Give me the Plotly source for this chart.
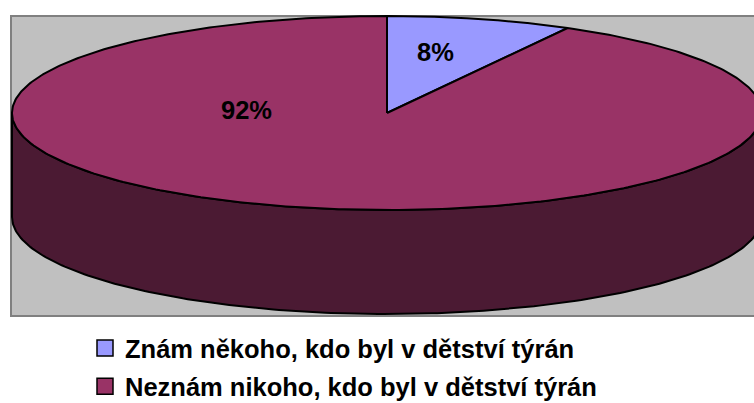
import numpy as np
import plotly.graph_objects as go

# ---- data ----
categories = ["Znám někoho, kdo byl v dětství týrán",
              "Neznám nikoho, kdo byl v dětství týrán"]
values = [8, 92]
top_colors = ["#9999FF", "#993366"]
side_colors = ["#4D4D80", "#4B1A33"]

# ---- geometry (pixel-like layout units) ----
W, H = 754, 403
cx, cy = 387, 113          # centre of top ellipse
a, b = 375, 97             # semi-axes
depth = 104                # thickness of the pie

def pt(theta_deg, dy=0.0):
    t = np.radians(theta_deg)
    return cx + a * np.sin(t), cy - b * np.cos(t) + dy

fig = go.Figure()

total = sum(values)
starts = np.cumsum([0] + values[:-1]) / total * 360.0
ends = np.cumsum(values) / total * 360.0

# sides (front half only: 90..270 degrees)
for s, e, col in zip(starts, ends, side_colors):
    s0, s1 = max(s, 90.0), min(e, 270.0)
    if s1 <= s0:
        continue
    th = np.linspace(s0, s1, 200)
    xt, yt = pt(th)
    xb, yb = pt(th[::-1], depth)
    xs = np.concatenate([xt, xb, xt[:1]])
    ys = np.concatenate([yt, yb, yt[:1]])
    fig.add_trace(go.Scatter(x=xs, y=ys, mode="lines", fill="toself",
                             fillcolor=col, line=dict(color="black", width=2),
                             hoverinfo="skip", showlegend=False))

# top faces
for s, e, col, name in zip(starts, ends, top_colors, categories):
    th = np.linspace(s, e, 400)
    xa, ya = pt(th)
    xs = np.concatenate([[cx], xa, [cx]])
    ys = np.concatenate([[cy], ya, [cy]])
    fig.add_trace(go.Scatter(x=xs, y=ys, mode="lines", fill="toself",
                             fillcolor=col, line=dict(color="black", width=2),
                             hoverinfo="skip", showlegend=False))

# legend entries
for i, (name, col) in enumerate(zip(categories, top_colors)):
    fig.add_trace(go.Scatter(x=[None], y=[None], mode="markers", name=name,
                             legendgroup=str(i),
                             marker=dict(symbol="square", size=18, color=col,
                                         line=dict(color="black", width=1.5))))

# percentage labels
label_pos = [(435, 52), (246, 110)]
for v, (lx, ly) in zip(values, label_pos):
    fig.add_annotation(x=lx, y=ly, text=f"{round(v / total * 100)}%",
                       showarrow=False, xref="x", yref="y",
                       font=dict(family="Liberation Sans", size=25.5,
                                 color="black", weight="bold"))

# plot area background
fig.add_shape(type="rect", x0=11, y0=16, x1=770, y1=316, xref="x", yref="y",
              fillcolor="#C0C0C0", line=dict(color="#808080", width=2),
              layer="below")

fig.update_layout(
    width=W, height=H,
    margin=dict(l=0, r=0, t=0, b=0, autoexpand=False),
    paper_bgcolor="white", plot_bgcolor="white",
    xaxis=dict(range=[0, W], visible=False, fixedrange=True),
    yaxis=dict(range=[H, 0], visible=False, fixedrange=True),
    showlegend=True,
    legend=dict(x=85 / W, y=1 - 325 / H, xanchor="left", yanchor="top",
                font=dict(family="Liberation Sans", size=25.5, color="black",
                          weight="bold"),
                tracegroupgap=2, bgcolor="rgba(0,0,0,0)"),
)

fig.write_html("out.html",
               config={"displayModeBar": False},
               post_script="document.body.style.margin='0';"
                           "document.body.style.overflow='hidden';")
